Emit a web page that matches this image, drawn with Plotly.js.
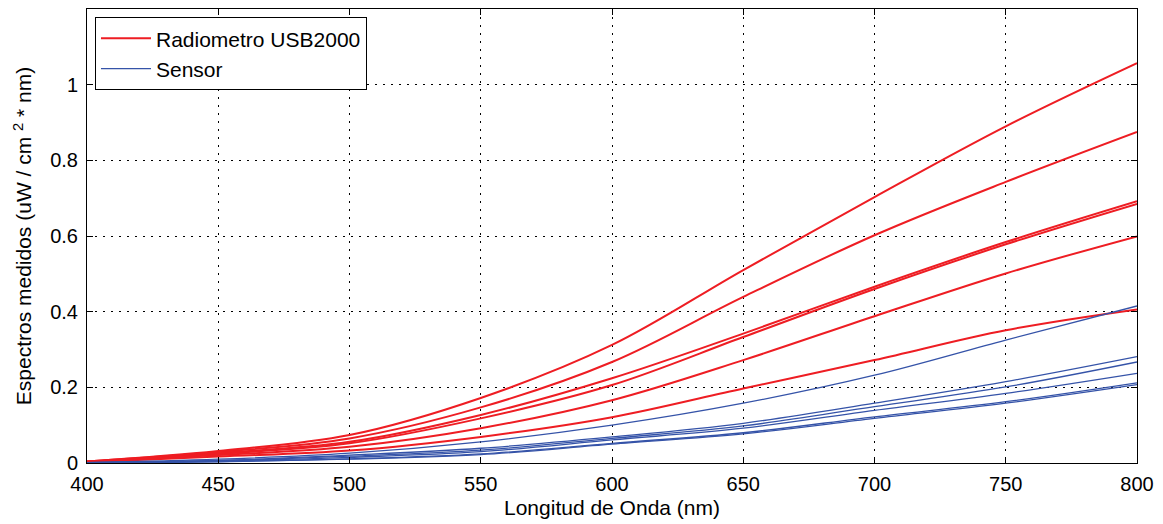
<!DOCTYPE html>
<html>
<head>
<meta charset="utf-8">
<script src="https://cdn.plot.ly/plotly-3.0.1.min.js"></script>
<style>html,body{margin:0;padding:0;background:#fff;}#chart{width:1163px;height:524px;}</style>
</head>
<body>
<div id="chart"></div>
<script>
// Wavelength (nm)
const wavelength = [400, 450, 500, 550, 600, 650, 700, 750, 800];

// Radiometro USB2000 spectra
const radiometro1 = [0.004, 0.032, 0.074, 0.172, 0.312, 0.510, 0.703, 0.890, 1.057];
const radiometro2 = [0.004, 0.029, 0.065, 0.147, 0.267, 0.439, 0.602, 0.743, 0.875];
const radiometro3 = [0.003, 0.026, 0.056, 0.127, 0.224, 0.342, 0.466, 0.584, 0.692];
const radiometro4 = [0.003, 0.024, 0.052, 0.118, 0.206, 0.333, 0.460, 0.578, 0.685];
const radiometro5 = [0.003, 0.021, 0.043, 0.092, 0.166, 0.272, 0.388, 0.501, 0.599];
const radiometro6 = [0.002, 0.017, 0.033, 0.069, 0.121, 0.197, 0.272, 0.351, 0.406];

// Sensor spectra
const sensor1 = [0.001, 0.010, 0.026, 0.056, 0.100, 0.158, 0.232, 0.325, 0.415];
const sensor2 = [0.001, 0.007, 0.021, 0.039, 0.069, 0.105, 0.158, 0.215, 0.281];
const sensor3 = [0.001, 0.006, 0.018, 0.034, 0.065, 0.098, 0.149, 0.201, 0.267];
const sensor4 = [0.001, 0.005, 0.015, 0.030, 0.061, 0.092, 0.139, 0.184, 0.237];
const sensor5 = [0.000, 0.004, 0.011, 0.024, 0.052, 0.080, 0.122, 0.162, 0.212];
const sensor6 = [0.000, 0.003, 0.010, 0.022, 0.050, 0.077, 0.118, 0.158, 0.207];

const xTicks = [400, 450, 500, 550, 600, 650, 700, 750, 800];
const yTicks = [0, 0.2, 0.4, 0.6, 0.8, 1];
const yTickText = ['0', '0.2', '0.4', '0.6', '0.8', '1'];

const RED = '#ee1d23';
const BLUE = '#3553a8';
const FONT = '"Liberation Sans", Arial, sans-serif';

const redSeries = [radiometro1, radiometro2, radiometro3, radiometro4, radiometro5, radiometro6];
const blueSeries = [sensor1, sensor2, sensor3, sensor4, sensor5, sensor6];

const traces = [];
redSeries.forEach((ys, i) => {
  traces.push({
    x: wavelength, y: ys, type: 'scatter', mode: 'lines',
    line: {color: RED, width: 2, shape: 'spline', smoothing: 1},
    name: 'Radiometro USB2000', legendgroup: 'r', showlegend: i === 0,
    hoverinfo: 'skip'
  });
});
blueSeries.forEach((ys, i) => {
  traces.push({
    x: wavelength, y: ys, type: 'scatter', mode: 'lines',
    line: {color: BLUE, width: 1.3, shape: 'spline', smoothing: 1},
    name: 'Sensor', legendgroup: 'b', showlegend: i === 0,
    hoverinfo: 'skip'
  });
});

const axisCommon = {
  showline: true, linecolor: '#000', linewidth: 1, mirror: 'ticks',
  ticks: 'inside', ticklen: 6, tickcolor: '#000', tickwidth: 1,
  showgrid: true, gridcolor: '#000', gridwidth: 1, griddash: '2px,6px',
  zeroline: false,
  tickfont: {family: FONT, size: 20, color: '#000'}
};

const layout = {
  width: 1163, height: 524,
  margin: {l: 87, r: 26, t: 9, b: 61},
  paper_bgcolor: '#fff', plot_bgcolor: '#fff',
  font: {family: FONT, color: '#000'},
  xaxis: Object.assign({}, axisCommon, {
    range: [400, 800], tickvals: xTicks, ticktext: xTicks.map(String),
    ticklabelstandoff: 3,
    title: {text: 'Longitud de Onda (nm)', font: {family: FONT, size: 21, color: '#000'}, standoff: 6}
  }),
  yaxis: Object.assign({}, axisCommon, {
    range: [0, 1.2], tickvals: yTicks, ticktext: yTickText,
    ticklabelstandoff: 4,
    title: {text: 'Espectros medidos (uW / cm <sup>2</sup> * nm)', font: {family: FONT, size: 21, color: '#000'}, standoff: 12}
  }),
  legend: {
    x: 0.0076, y: 0.982, xanchor: 'left', yanchor: 'top',
    bgcolor: '#fff', bordercolor: '#000', borderwidth: 1,
    font: {family: FONT, size: 21, color: '#000'},
    itemwidth: 50,
    tracegroupgap: 0
  },
  showlegend: true
};

Plotly.newPlot('chart', traces, layout, {displayModeBar: false, staticPlot: true});
</script>
</body>
</html>
